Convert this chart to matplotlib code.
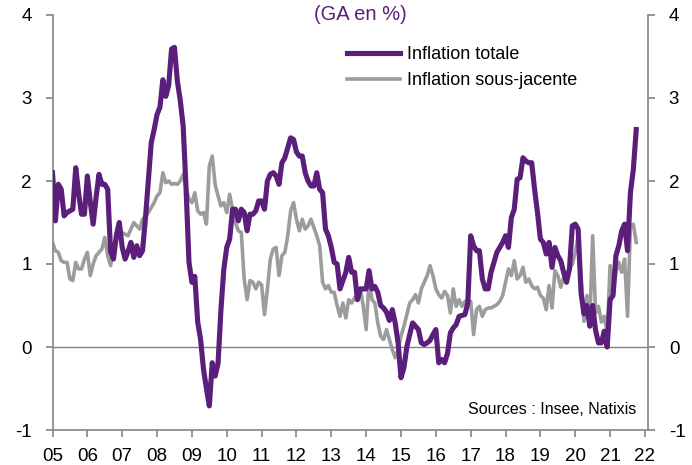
import numpy as np
import matplotlib
matplotlib.use("Agg")
import matplotlib.pyplot as plt

plt.rcParams['font.family'] = ['Liberation Sans', 'DejaVu Sans']
plt.rcParams['axes.unicode_minus'] = False

# Glissement annuel mensuel, janvier 2005 -> octobre 2021
inflation_totale = [
    2.10, 1.52, 1.96, 1.90, 1.58, 1.62, 1.64, 1.66, 2.16, 1.85, 1.60, 1.60,   # 2005
    2.06, 1.75, 1.48, 1.80, 2.08, 1.96, 1.96, 1.90, 1.15, 1.06, 1.35, 1.50,   # 2006
    1.20, 1.06, 1.15, 1.26, 1.08, 1.22, 1.10, 1.16, 1.55, 2.00, 2.46, 2.62,   # 2007
    2.80, 2.89, 3.22, 3.02, 3.15, 3.59, 3.61, 3.20, 2.97, 2.66, 1.90, 1.02,   # 2008
    0.78, 0.85, 0.30, 0.09, -0.27, -0.50, -0.71, -0.19, -0.35, -0.20, 0.45, 0.94,  # 2009
    1.20, 1.30, 1.66, 1.66, 1.52, 1.66, 1.62, 1.40, 1.60, 1.60, 1.64, 1.76,   # 2010
    1.76, 1.66, 2.00, 2.08, 2.10, 2.06, 1.96, 2.22, 2.28, 2.40, 2.52, 2.50,   # 2011
    2.35, 2.30, 2.30, 2.10, 2.00, 1.94, 1.94, 2.10, 1.90, 1.86, 1.42, 1.34,   # 2012
    1.20, 1.02, 1.00, 0.70, 0.80, 0.90, 1.08, 0.90, 0.90, 0.57, 0.70, 0.70,   # 2013
    0.70, 0.92, 0.70, 0.73, 0.66, 0.50, 0.47, 0.42, 0.32, 0.45, 0.29, 0.05,   # 2014
    -0.37, -0.25, 0.00, 0.15, 0.29, 0.25, 0.21, 0.05, 0.03, 0.05, 0.08, 0.15,  # 2015
    0.21, -0.19, -0.15, -0.19, -0.08, 0.17, 0.23, 0.27, 0.37, 0.38, 0.39, 0.53,  # 2016
    1.34, 1.22, 1.16, 1.16, 0.82, 0.70, 0.70, 0.90, 1.02, 1.14, 1.20, 1.26,   # 2017
    1.34, 1.20, 1.56, 1.66, 2.02, 2.04, 2.28, 2.24, 2.22, 2.22, 1.90, 1.62,   # 2018
    1.30, 1.26, 1.12, 1.26, 0.96, 1.20, 1.10, 1.04, 0.90, 0.78, 0.94, 1.46,   # 2019
    1.48, 1.42, 0.65, 0.40, 0.50, 0.25, 0.50, 0.20, 0.05, 0.05, 0.19, 0.00,   # 2020
    0.57, 0.62, 1.10, 1.22, 1.40, 1.48, 1.16, 1.86, 2.14, 2.62,               # 2021
]

inflation_sous_jacente = [
    1.26, 1.16, 1.14, 1.04, 1.02, 1.02, 0.82, 0.80, 1.02, 0.94, 0.94, 1.06,   # 2005
    1.14, 0.86, 1.00, 1.10, 1.14, 1.18, 1.32, 1.10, 0.98, 1.20, 1.32, 1.38,   # 2006
    1.38, 1.36, 1.34, 1.42, 1.50, 1.46, 1.42, 1.54, 1.57, 1.62, 1.68, 1.74,   # 2007
    1.82, 1.86, 2.10, 1.98, 2.00, 1.96, 1.97, 1.96, 2.00, 2.08, 1.92, 1.78,   # 2008
    1.74, 1.86, 1.64, 1.60, 1.62, 1.48, 2.18, 2.30, 1.96, 1.82, 1.70, 1.74,   # 2009
    1.62, 1.84, 1.66, 1.50, 1.40, 1.38, 0.82, 0.57, 0.80, 0.78, 0.70, 0.78,   # 2010
    0.75, 0.39, 0.70, 1.06, 1.18, 1.20, 0.86, 1.10, 1.14, 1.34, 1.64, 1.74,   # 2011
    1.54, 1.40, 1.54, 1.42, 1.46, 1.54, 1.44, 1.34, 1.22, 0.78, 0.70, 0.74,   # 2012
    0.66, 0.66, 0.50, 0.37, 0.53, 0.35, 0.57, 0.53, 0.59, 0.62, 0.70, 0.49,   # 2013
    0.21, 0.82, 0.57, 0.53, 0.29, 0.13, 0.09, 0.21, 0.09, -0.03, -0.13, -0.03,  # 2014
    0.13, 0.25, 0.39, 0.53, 0.57, 0.63, 0.53, 0.70, 0.78, 0.86, 0.98, 0.86,   # 2015
    0.70, 0.63, 0.59, 0.67, 0.62, 0.41, 0.70, 0.49, 0.57, 0.49, 0.55, 0.50,   # 2016
    0.55, 0.15, 0.45, 0.49, 0.37, 0.45, 0.47, 0.47, 0.49, 0.51, 0.55, 0.62,   # 2017
    0.78, 0.94, 0.86, 1.04, 0.82, 0.86, 0.96, 0.78, 0.82, 0.74, 0.70, 0.72,   # 2018
    0.62, 0.59, 0.45, 0.74, 0.47, 0.92, 0.86, 0.72, 0.84, 0.86, 0.94, 1.00,   # 2019
    1.14, 1.34, 0.84, 0.31, 0.62, 0.29, 1.34, 0.41, 0.49, 0.30, 0.37, 0.17,   # 2020
    0.98, 0.62, 0.90, 1.02, 0.90, 1.06, 0.37, 1.46, 1.48, 1.26,               # 2021
]

annees = list(range(2005, 2023))
etiquettes = ['%02d' % (a % 100) for a in annees]

violet = '#5b1f7b'
gris = '#9c9c9c'
axe = '#8c8c8c'

t_tot = 2005 + np.arange(len(inflation_totale)) / 12.0
t_sj = 2005 + np.arange(len(inflation_sous_jacente)) / 12.0

fig = plt.figure(figsize=(6.92, 4.65), dpi=100)
ax = fig.add_axes([52.5 / 692, 1 - 430 / 465, (648 - 52.5) / 692, (430 - 15) / 465])

ax.axhline(0, color='#808080', lw=1.0, zorder=1)
ax.plot(t_sj, inflation_sous_jacente, color=gris, lw=2.6, label='Inflation sous-jacente',
        zorder=2, solid_joinstyle='round')
ax.plot(t_tot, inflation_totale, color=violet, lw=3.7, label='Inflation totale',
        zorder=3, solid_joinstyle='round')

ax.set_xlim(2005, 2005 + (648 - 52.5) / 34.85)
ax.set_ylim(-1, 4)
ax.set_xticks(annees)
ax.set_xticklabels(etiquettes)
ax.set_yticks([-1, 0, 1, 2, 3, 4])

for s in ['left', 'right', 'bottom']:
    ax.spines[s].set_color(axe)
    ax.spines[s].set_linewidth(1.3)
ax.spines['top'].set_visible(False)

ax.tick_params(axis='both', direction='out', length=5, width=1.3, color=axe,
               labelsize=13.5, labelcolor='black')
ax.tick_params(axis='y', left=True, right=True, labelleft=True, labelright=True, pad=10)
ax.tick_params(axis='x', pad=8)

h, l = ax.get_legend_handles_labels()
leg = ax.legend(h[::-1], l[::-1], loc='upper left', bbox_to_anchor=(347 / 692, 1 - 46 / 465),
                bbox_transform=fig.transFigure, frameon=False, fontsize=13,
                handlelength=2.95, handletextpad=0.35, labelspacing=0.5,
                borderpad=0, borderaxespad=0)

fig.text(360 / 692, 1 - 15 / 465, '(GA en %)', color=violet, fontsize=14.5,
         ha='center', va='center')
ax.text(0.981, 0.032, 'Sources : Insee, Natixis', transform=ax.transAxes,
        ha='right', va='bottom', fontsize=11.5)

fig.savefig('out.png', dpi=100)
